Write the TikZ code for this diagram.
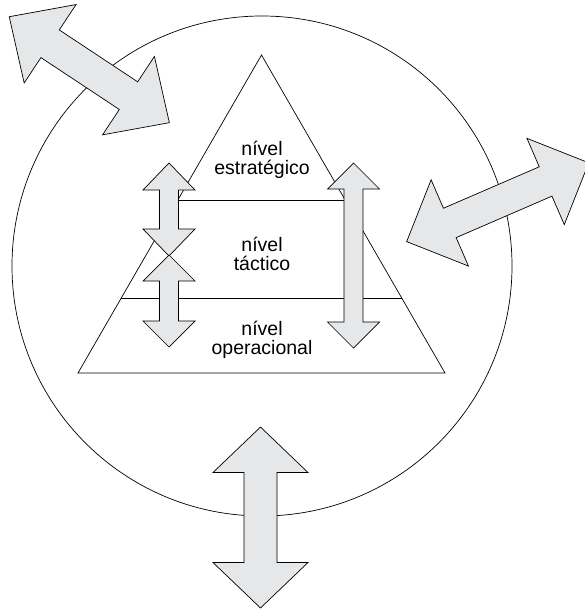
\documentclass[tikz,border=0pt]{standalone}
\usepackage{fontspec}
\setmainfont{Liberation Sans}
\usetikzlibrary{calc}
\definecolor{arrowfill}{RGB}{230,231,232}
\tikzset{
  outline/.style={draw=black, line width=0.7pt},
  bigarrow/.style={draw=black, line width=0.7pt, fill=arrowfill, line join=miter},
  leveltext/.style={align=center, inner sep=0pt, font=\fontsize{19.5}{18.5}\selectfont}
}
% double arrow: centre x, centre y, angle, half length, shaft half width, head half width, head length
\newcommand\dblarrow[7]{%
  \draw[bigarrow, shift={(#1,#2)}, rotate=#3]
    (-#4,0) -- ({-#4+#7},#6) -- ({-#4+#7},#5) -- ({#4-#7},#5) -- ({#4-#7},#6)
    -- (#4,0) -- ({#4-#7},-#6) -- ({#4-#7},-#5) -- ({-#4+#7},-#5) -- ({-#4+#7},-#6) -- cycle;}
\begin{document}
\begin{tikzpicture}[x=1pt,y=-1pt]
\useasboundingbox (0,0) rectangle (584,610);
% circle
\coordinate (c) at (262,266);
\draw[outline] (c) circle[radius=250];
% pyramid
\coordinate (apex) at (261.5,55);
\coordinate (bl) at (78,373);
\coordinate (br) at (445,373);
\draw[outline, line join=miter] (apex) -- (bl) -- (br) -- cycle;
\draw[outline] ($(apex)!0.456!(bl)$) -- ($(apex)!0.456!(br)$);
\draw[outline] ($(apex)!0.764!(bl)$) -- ($(apex)!0.764!(br)$);
% texts
\node[leveltext] (est) at (262,160) {nível\\estratégico};
\node[leveltext] (tac) at (262,254) {nível\\táctico};
\node[leveltext] (ope) at (262,340) {nível\\operacional};
% arrows
\dblarrow{89.3}{69.7}{-33.5}{96}{16.6}{47}{49}
\dblarrow{497.7}{202.2}{23.4}{99.2}{16}{47}{47}
\dblarrow{260.5}{517.5}{90}{90.5}{16.5}{47.5}{45.5}
\dblarrow{169}{209.5}{90}{46.5}{9.5}{26}{27}
\dblarrow{169}{301}{90}{46}{9.5}{26}{26}
\dblarrow{353.5}{255.5}{90}{92.5}{9.5}{26}{26}
\end{tikzpicture}
\end{document}
